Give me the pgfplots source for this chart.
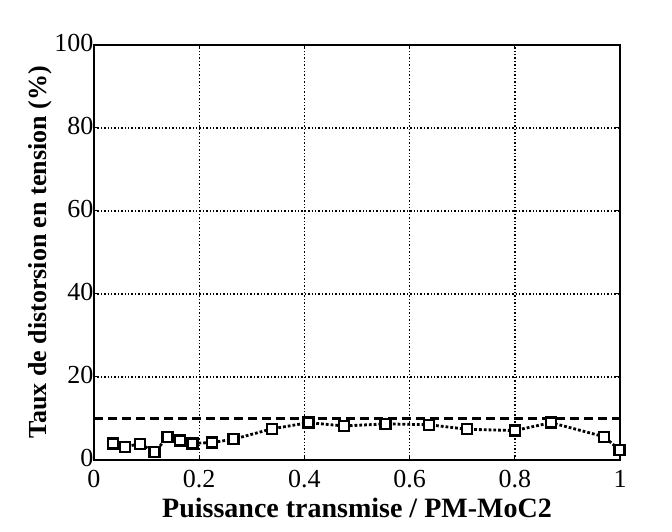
\documentclass[border=0pt]{standalone}
\usepackage{fontspec}
\setmainfont{Liberation Serif}
\usepackage{pgfplots}
\pgfplotsset{compat=1.18}
\begin{document}
\begin{tikzpicture}
\begin{axis}[
  scale only axis, width=526pt, height=415pt,
  xmin=0, xmax=1, ymin=0, ymax=100,
  xtick={0,0.2,0.4,0.6,0.8,1}, ytick={0,20,40,60,80,100},
  xticklabels={0,0.2,0.4,0.6,0.8,1},
  yticklabels={0,20,40,60,80,100},
  /pgf/number format/assume math mode=true,
  tick label style={font=\fontsize{26}{28}\selectfont},
  grid=major, major grid style={black, line width=1.4pt, dotted},
  axis line style={line width=2.5pt},
  tick style={black, line width=1pt}, major tick length=4pt,
  xlabel={\bfseries Puissance transmise / PM-MoC2},
  ylabel={\bfseries Taux de distorsion en tension (\%)},
  xlabel style={font=\fontsize{28}{30}\selectfont, yshift=-3pt},
  ylabel style={font=\fontsize{26}{28}\selectfont, yshift=-4pt},
  xticklabel style={yshift=-7pt},
  yticklabel style={xshift=3pt, yshift=2pt},
  clip=false,
]
\addplot[black, line width=2.4pt, dashed, dash pattern=on 9pt off 5pt, forget plot] coordinates {(0,10) (1,10)};
\addplot[black, line width=2.8pt, dotted, mark=square*, mark size=5pt,
  mark options={solid, fill=white, draw=black, line width=2.4pt}] coordinates {
(0.036,4.0) (0.059,3.2) (0.088,3.9) (0.115,1.9) (0.140,5.5) (0.164,4.7)
(0.187,4.0) (0.224,4.2) (0.265,5.0) (0.338,7.5) (0.408,9.0) (0.475,8.2)
(0.554,8.7) (0.637,8.5) (0.709,7.4) (0.800,7.1) (0.869,9.0) (0.970,5.6) (0.999,2.4)
};
\end{axis}
\path ([xshift=-94pt,yshift=-72pt]current axis.south west) rectangle ([xshift=52pt,yshift=45pt]current axis.north east);
\end{tikzpicture}
\end{document}
